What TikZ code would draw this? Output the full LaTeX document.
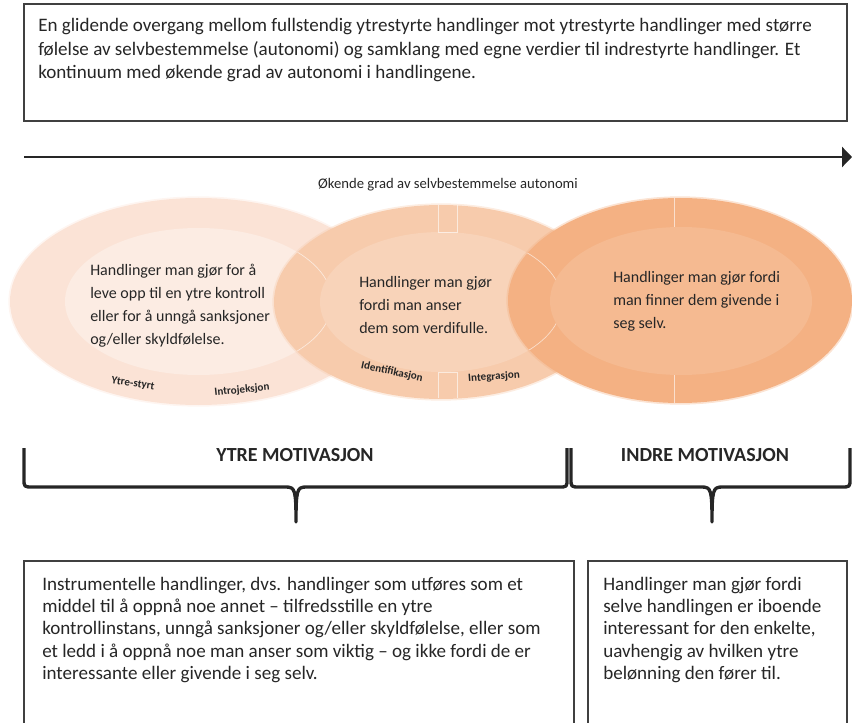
\documentclass[tikz,border=0pt]{standalone}
\usepackage{fontspec}
\setmainfont{Carlito}
\usetikzlibrary{arrows.meta}

\definecolor{inkgray}{HTML}{262626}
\definecolor{framegray}{HTML}{404040}
\definecolor{ytreouter}{HTML}{FBE3D6}
\definecolor{ytreinner}{HTML}{FCECE3}
\definecolor{identouter}{HTML}{F7CBAC}
\definecolor{identinner}{HTML}{F8D3B9}
\definecolor{indreouter}{HTML}{F4B183}
\definecolor{indreinner}{HTML}{F5BA91}

\tikzset{
  boxline/.style={draw=framegray, line width=1pt},
  boxtext/.style={anchor=base west, align=left, inner sep=0pt, text=inkgray,
    font=\fontsize{14.3}{17.6}\selectfont},
  ringtext/.style={anchor=base west, align=left, inner sep=0pt, text=inkgray,
    font=\fontsize{12}{17.25}\selectfont},
  steplabel/.style={inner sep=0pt, text=inkgray, font=\bfseries\fontsize{8.3}{9}\selectfont},
  bracelabel/.style={inner sep=0pt, text=inkgray, font=\bfseries\fontsize{15}{17}\selectfont},
  bracket/.style={draw=inkgray, line width=2.5pt, line join=round},
  divider/.style={draw=white, draw opacity=.6, line width=.5pt},
  softedge/.style={draw=#1, draw opacity=.35, line width=2.5pt}
}

\begin{document}
\begin{tikzpicture}[x=0.75pt, y=-0.75pt]
\useasboundingbox (0,0) rectangle (852,723);
\clip (0,0) rectangle (852,723);

\draw [boxline] (24,4) rectangle (847,121);
\node [boxtext] (intro) at (38,78.5) {En glidende overgang mellom fullstendig ytrestyrte handlinger mot ytrestyrte handlinger med større\\følelse av selvbestemmelse (autonomi) og samklang med egne verdier til indrestyrte handlinger. Et\\kontinuum med økende grad av autonomi i handlingene.};

\coordinate (axisstart) at (24,157);
\coordinate (axisend) at (852,157);
\draw [-{Triangle[length=7.5pt,width=15pt]}, draw=inkgray, line width=2pt] (axisstart) -- (axisend);
\node [text=inkgray, font=\fontsize{11}{13}\selectfont] (axislabel) at (448,185) {Økende grad av selvbestemmelse autonomi};

\fill [ytreouter] (198.5,301.5) ellipse [x radius=188.5, y radius=103.5];
\draw [softedge=ytreouter] (198.5,301.5) ellipse [x radius=188.5, y radius=103.5];
\fill [ytreinner] (198.5,301.5) ellipse [x radius=133.5, y radius=73.5];
\fill [identouter] (441,302) ellipse [x radius=167, y radius=97];
\draw [softedge=identouter] (441,302) ellipse [x radius=167, y radius=97];
\begin{scope}
  \clip (441,302) ellipse [x radius=167, y radius=97];
  \draw [divider] (198.5,301.5) ellipse [x radius=133.5, y radius=73.5];
\end{scope}
\fill [identinner] (441,302) ellipse [x radius=121, y radius=70];
\draw [divider] (438,205) -- (438,232) -- (457,232) -- (457,205);
\draw [divider] (438,398) -- (438,372) -- (457,372) -- (457,398);
\fill [indreouter] (680,300.5) ellipse [x radius=172, y radius=102.5];
\draw [softedge=indreouter] (680,300.5) ellipse [x radius=172, y radius=102.5];
\begin{scope}
  \clip (680,300.5) ellipse [x radius=172, y radius=102.5];
  \draw [divider] (441,302) ellipse [x radius=121, y radius=70];
\end{scope}
\fill [indreinner] (681,301) ellipse [x radius=131, y radius=74];
\draw [divider] (674,198) -- (674,227);
\draw [divider] (674,375) -- (674,403);

\node [ringtext] (ytretext) at (90,344.5) {Handlinger man gjør for å\\leve opp til en ytre kontroll\\eller for å unngå sanksjoner\\og/eller skyldfølelse.};
\node [ringtext] (identtext) at (359,333.5) {Handlinger man gjør\\fordi man anser\\dem som verdifulle.};
\node [ringtext] (indretext) at (613,328.5) {Handlinger man gjør fordi\\man finner dem givende i\\seg selv.};

\node [steplabel, rotate=-8] (ytrestyrt) at (133,384) {Ytre-styrt};
\node [steplabel, rotate=6] (introjeksjon) at (242,390) {Introjeksjon};
\node [steplabel, rotate=-12] (identifikasjon) at (392,372) {Identifikasjon};
\node [steplabel, rotate=4] (integrasjon) at (494,377) {Integrasjon};

\draw [bracket] (24,448) -- (24,479) .. controls (24,487) .. (33,487) -- (286,487)
  .. controls (295,487) and (296,490) .. (296,522) .. controls (296,490) and (297,487) .. (306,487)
  -- (559,487) .. controls (567,487) .. (567,479) -- (567,448);
\draw [bracket] (571,448) -- (571,479) .. controls (571,487) .. (580,487) -- (702,487)
  .. controls (711,487) and (712,490) .. (712,522) .. controls (712,490) and (713,487) .. (722,487)
  -- (841,487) .. controls (850,487) .. (850,479) -- (850,448);
\node [bracelabel] (ytrelabel) at (295,455) {YTRE MOTIVASJON};
\node [bracelabel] (indrelabel) at (705,455) {INDRE MOTIVASJON};

\draw [boxline] (24,740) -- (24,561) -- (574,561) -- (574,740);
\node [boxtext, font=\fontsize{14.3}{16.7}\selectfont] (ytrebox) at (42,679.5) {Instrumentelle handlinger, dvs. handlinger som utføres som et\\middel til å oppnå noe annet – tilfredsstille en ytre\\kontrollinstans, unngå sanksjoner og/eller skyldfølelse, eller som\\et ledd i å oppnå noe man anser som viktig – og ikke fordi de er\\interessante eller givende i seg selv.};
\draw [boxline] (588,740) -- (588,561) -- (847,561) -- (847,740);
\node [boxtext, font=\fontsize{14.3}{16.7}\selectfont] (indrebox) at (603,679.5) {Handlinger man gjør fordi\\selve handlingen er iboende\\interessant for den enkelte,\\uavhengig av hvilken ytre\\belønning den fører til.};
\end{tikzpicture}
\end{document}
